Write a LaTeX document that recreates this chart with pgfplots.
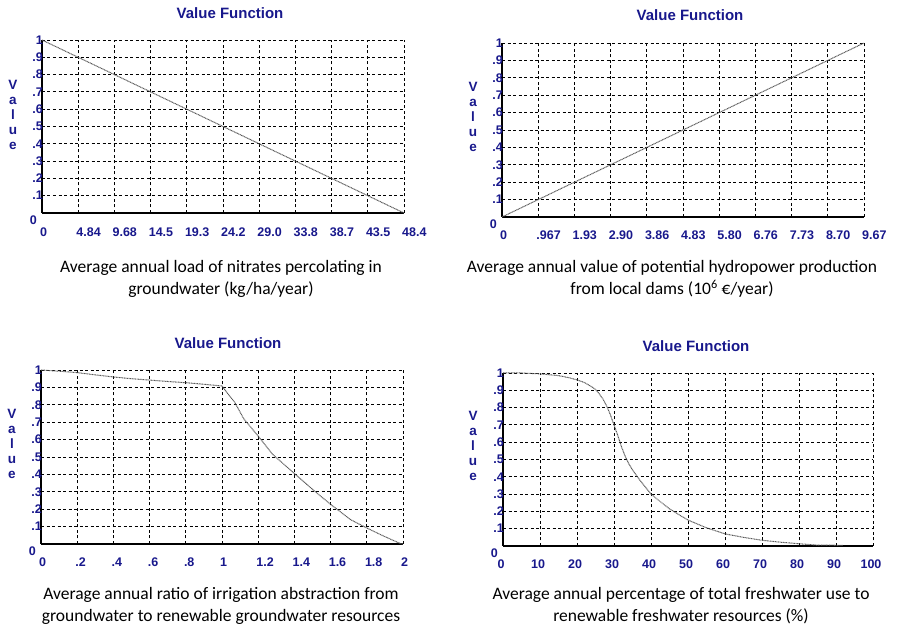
\documentclass[border=0pt]{standalone}
\usepackage{fontspec}
\setmainfont{Carlito}
\newfontfamily\labfont{Liberation Sans}
\usepackage{pgfplots}
\pgfplotsset{compat=1.18}
\definecolor{navy}{RGB}{24,24,140}
\pgfplotsset{vf/.style={
  scale only axis,
  anchor=south west,
  ymin=0, ymax=1,
  ytick={0,0.1,0.2,0.3,0.4,0.5,0.6,0.7,0.8,0.9,1},
  yticklabels={,.1,.2,.3,.4,.5,.6,.7,.8,.9,1},
  grid=major,
  major grid style={black, line width=0.8pt, dash pattern=on 3pt off 2.5pt},
  axis x line*=bottom, axis y line*=left,
  axis line style={black, line width=1.6pt, -},
  major tick length=0pt,
  tick style={draw=none},
  ticklabel style={font=\labfont\bfseries\fontsize{12.5}{14}\selectfont, text=navy, inner sep=0pt},
  yticklabel style={anchor=east, xshift=1pt},
  xticklabel style={anchor=north west, xshift=-2pt, yshift=-14pt},
  clip=false,
}}
\tikzset{curve/.style={black!65, line width=1pt, dash pattern=on 1pt off 0.6pt},
  zero/.style={anchor=east, font=\labfont\bfseries\fontsize{12.5}{14}\selectfont, text=navy, inner sep=0pt, xshift=-5pt, yshift=-7pt},
  ttl/.style={font=\labfont\bfseries\fontsize{15}{18}\selectfont, text=navy},
  vlab/.style={font=\labfont\bfseries\fontsize{13.5}{15}\selectfont, text=navy, align=center},
  captxt/.style={font=\fontsize{17.5}{22}\selectfont, align=center}}
\begin{document}
\begin{tikzpicture}[x=1pt,y=1pt]
\useasboundingbox (0,0) rectangle (897,629);
% Panel 1
\begin{axis}[vf, at={(42pt,416pt)}, width=362pt, height=173pt,
  xmin=0, xmax=48.4,
  xtick={0,4.84,9.68,14.52,19.36,24.2,29.04,33.88,38.72,43.56,48.4},
  xticklabels={0,4.84,9.68,14.5,19.3,24.2,29.0,33.8,38.7,43.5,48.4},
  xticklabel style={yshift=-1pt}]
\addplot[curve] coordinates {(0,1) (48.4,0)};
\node[zero] at (rel axis cs:0,0) {0};
\end{axis}
% Panel 2
\begin{axis}[vf, at={(502pt,412pt)}, width=362pt, height=174pt,
  xmin=0, xmax=9.67,
  xtick={0,0.967,1.934,2.901,3.868,4.835,5.802,6.769,7.736,8.703,9.67},
  xticklabels={0,.967,1.93,2.90,3.86,4.83,5.80,6.76,7.73,8.70,9.67}]
\addplot[curve] coordinates {(0,0) (9.67,1)};
\node[zero] at (rel axis cs:0,0) {0};
\end{axis}
% Panel 3
\begin{axis}[vf, at={(41pt,85pt)}, width=362pt, height=174pt,
  xmin=0, xmax=2,
  xtick={0,0.2,0.4,0.6,0.8,1,1.2,1.4,1.6,1.8,2},
  xticklabels={0,.2,.4,.6,.8,1,1.2,1.4,1.6,1.8,2}]
\addplot[curve] coordinates {(0,1) (0.1,0.993) (0.2,0.985) (0.3,0.972) (0.4,0.96) (0.5,0.95) (0.6,0.942) (0.7,0.934) (0.8,0.927) (0.9,0.918) (1.0,0.908) (1.035,0.86) (1.07,0.815) (1.12,0.72) (1.2,0.62) (1.28,0.515) (1.4,0.405) (1.51,0.305) (1.6,0.228) (1.71,0.14) (1.8,0.092) (1.89,0.047) (1.98,0.005) (2,0)};
\node[zero] at (rel axis cs:0,0) {0};
\end{axis}
% Panel 4
\begin{axis}[vf, at={(503pt,83pt)}, width=370pt, height=173pt,
  xmin=0, xmax=100,
  xtick={0,10,20,30,40,50,60,70,80,90,100},
  xticklabels={0,10,20,30,40,50,60,70,80,90,100},
  xticklabel style={anchor=north, xshift=0pt}]
\addplot[curve] coordinates {(0,1) (5,1) (10,0.995) (15,0.985) (18,0.972) (20,0.96) (22,0.945) (24,0.92) (25,0.905) (26,0.88) (27,0.85) (28,0.81) (29,0.76) (30,0.70) (31,0.64) (32,0.575) (33,0.52) (34,0.475) (35,0.44) (37,0.38) (40,0.30) (42,0.265) (45,0.215) (48,0.175) (50,0.15) (55,0.105) (60,0.07) (65,0.05) (70,0.033) (75,0.022) (80,0.013) (85,0.005) (91.8,0.004)};
\node[zero] at (rel axis cs:0,0) {0};
\end{axis}
% Titles
\node[ttl] at (230,616) {Value Function};
\node[ttl] at (690,614) {Value Function};
\node[ttl] at (228,286) {Value Function};
\node[ttl] at (696,283) {Value Function};
% Value labels
\node[vlab] at (13,514) {V\\a\\l\\u\\e};
\node[vlab] at (473,512) {V\\a\\l\\u\\e};
\node[vlab] at (12,185) {V\\a\\l\\u\\e};
\node[vlab] at (473,183) {V\\a\\l\\u\\e};
% Captions
\node[captxt] at (221,350) {Average annual load of nitrates percolating in\\groundwater (kg/ha/year)};
\node[captxt] at (672,350) {Average annual value of potential hydropower production\\from local dams (10\textsuperscript{6} €/year)};
\node[captxt] at (221,23) {Average annual ratio of irrigation abstraction from\\groundwater to renewable groundwater resources};
\node[captxt] at (681,23) {Average annual percentage of total freshwater use to\\renewable freshwater resources (\%)};
\end{tikzpicture}
\end{document}
